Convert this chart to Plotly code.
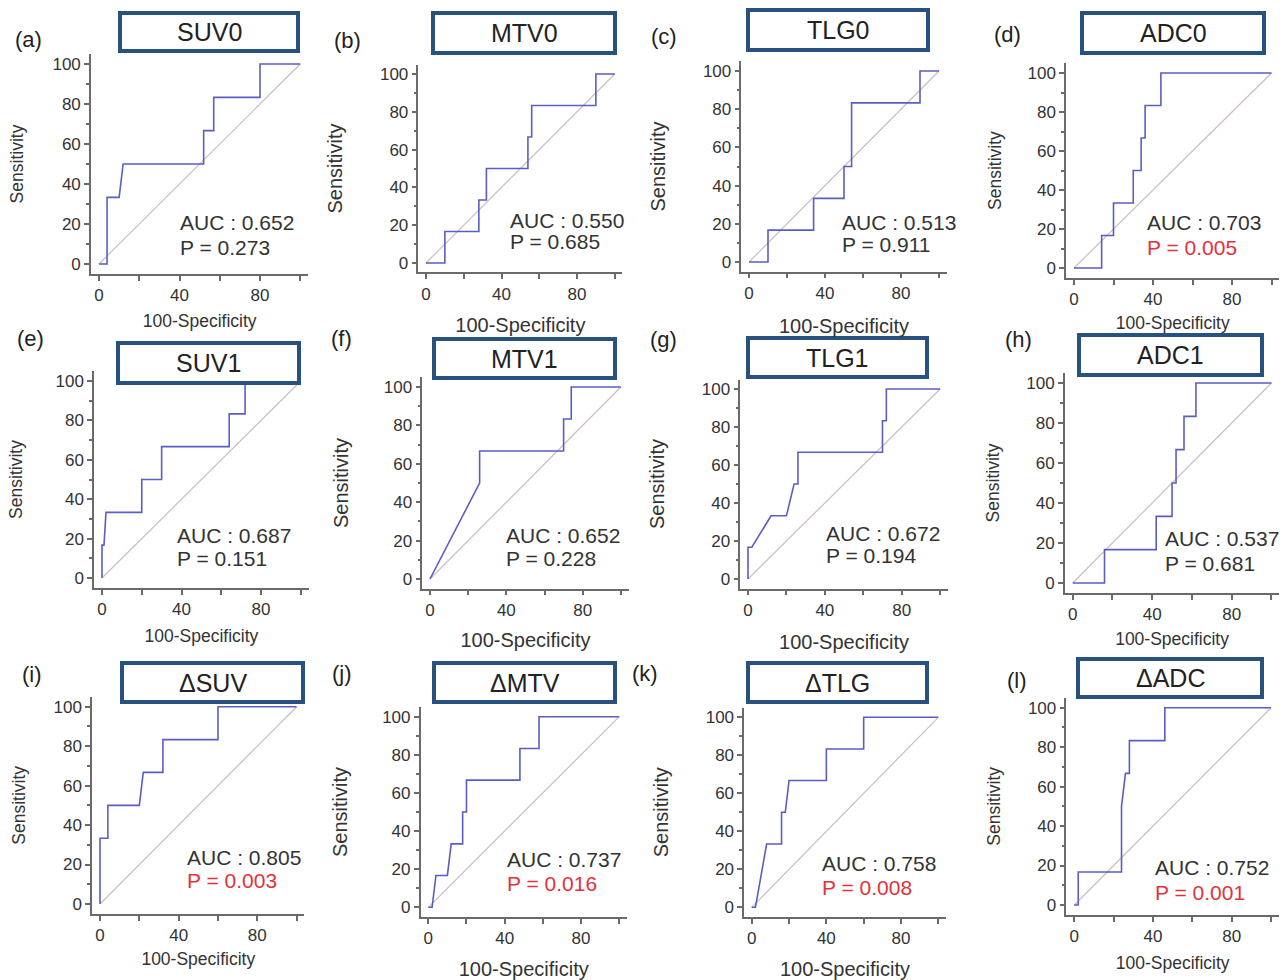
import plotly.graph_objects as go

W, H = 1287, 980

# ---------------- data ----------------
panel_letters = ["(a)", "(b)", "(c)", "(d)", "(e)", "(f)", "(g)", "(h)", "(i)", "(j)", "(k)", "(l)"]
parameters = ["SUV0", "MTV0", "TLG0", "ADC0", "SUV1", "MTV1", "TLG1", "ADC1", "ΔSUV", "ΔMTV", "ΔTLG", "ΔADC"]
auc_values = ["0.652", "0.550", "0.513", "0.703", "0.687", "0.652", "0.672", "0.537", "0.805", "0.737", "0.758", "0.752"]
p_values = ["0.273", "0.685", "0.911", "0.005", "0.151", "0.228", "0.194", "0.681", "0.003", "0.016", "0.008", "0.001"]

# ROC curves: 100-Specificity (x) and Sensitivity (y)
suv0_x = [0, 4, 4, 10, 12, 52, 52, 57, 57, 80, 80, 100]
suv0_y = [0, 0, 33.3, 33.3, 50, 50, 66.7, 66.7, 83.3, 83.3, 100, 100]
mtv0_x = [0, 10, 10, 28, 28, 32, 32, 54, 54, 56, 56, 90, 90, 100]
mtv0_y = [0, 0, 16.7, 16.7, 33.3, 33.3, 50, 50, 66.7, 66.7, 83.3, 83.3, 100, 100]
tlg0_x = [0, 10, 10, 34, 34, 50, 50, 54, 54, 90, 90, 100]
tlg0_y = [0, 0, 16.7, 16.7, 33.3, 33.3, 50, 50, 83.3, 83.3, 100, 100]
adc0_x = [0, 14, 14, 20, 20, 30, 30, 34, 34, 36, 36, 44, 44, 100]
adc0_y = [0, 0, 16.7, 16.7, 33.3, 33.3, 50, 50, 66.7, 66.7, 83.3, 83.3, 100, 100]
suv1_x = [0, 0, 1, 2, 20, 20, 30, 30, 64, 64, 72, 72, 100]
suv1_y = [0, 16.7, 16.7, 33.3, 33.3, 50, 50, 66.7, 66.7, 83.3, 83.3, 100, 100]
mtv1_x = [0, 26, 26, 70, 70, 74, 74, 100]
mtv1_y = [0, 50, 66.7, 66.7, 83.3, 83.3, 100, 100]
tlg1_x = [0, 0, 2, 12, 20, 24, 26, 26, 70, 70, 72, 72, 100]
tlg1_y = [0, 16.7, 16.7, 33.3, 33.3, 50, 50, 66.7, 66.7, 83.3, 83.3, 100, 100]
adc1_x = [0, 16, 16, 42, 42, 50, 50, 52, 52, 56, 56, 62, 62, 100]
adc1_y = [0, 0, 16.7, 16.7, 33.3, 33.3, 50, 50, 66.7, 66.7, 83.3, 83.3, 100, 100]
dsuv_x = [0, 0, 4, 4, 20, 22, 32, 32, 60, 60, 100]
dsuv_y = [0, 33.3, 33.3, 50, 50, 66.7, 66.7, 83.3, 83.3, 100, 100]
dmtv_x = [0, 2, 4, 10, 12, 18, 18, 20, 20, 48, 48, 58, 58, 100]
dmtv_y = [0, 0, 16.7, 16.7, 33.3, 33.3, 50, 50, 66.7, 66.7, 83.3, 83.3, 100, 100]
dtlg_x = [0, 2, 8, 16, 16, 18, 20, 40, 40, 60, 60, 100]
dtlg_y = [0, 0, 33.3, 33.3, 50, 50, 66.7, 66.7, 83.3, 83.3, 100, 100]
dadc_x = [0, 2, 2, 24, 24, 26, 28, 28, 46, 46, 100]
dadc_y = [0, 0, 16.7, 16.7, 50, 66.7, 66.7, 83.3, 83.3, 100, 100]

curves_x = [suv0_x, mtv0_x, tlg0_x, adc0_x, suv1_x, mtv1_x, tlg1_x, adc1_x, dsuv_x, dmtv_x, dtlg_x, dadc_x]
curves_y = [suv0_y, mtv0_y, tlg0_y, adc0_y, suv1_y, mtv1_y, tlg1_y, adc1_y, dsuv_y, dmtv_y, dtlg_y, dadc_y]

ref_x = [0, 100]
ref_y = [0, 100]
x_tickvals = [0, 20, 40, 60, 80, 100]
x_ticktext = ["0", "", "40", "", "80", ""]
y_tickvals = [0, 20, 40, 60, 80, 100]
y_minor = [10, 30, 50, 70, 90]

# ---------------- layout geometry (pixels) ----------------
# pixel position of x=0, x=80, y=0, y=100 in each panel
axes_px = [
    (99, 260, 264, 64), (426, 577, 263, 74), (749, 901, 262, 71), (1074, 1232, 268, 73),
    (102, 261, 578, 381), (430, 582.7, 579, 387), (748, 901.7, 579, 389), (1072.7, 1231.7, 583, 383),
    (100, 257.3, 904, 706.7), (428.3, 581, 907.3, 716.7), (751.7, 901, 907.3, 717.3), (1074.3, 1231.7, 905, 707.7),
]
box_px = [
    (120, 298, 13, 51), (433, 615, 13, 53), (748, 928, 10, 50), (1082, 1264, 13, 53),
    (118, 299, 343, 383), (434, 615, 339, 378), (748, 927, 338, 377), (1079, 1262, 335, 375),
    (122, 303, 663, 702), (434, 615, 663, 702), (748, 927, 663, 702), (1078, 1262, 659, 697),
]
letter_px = [
    (28, 39), (347, 41), (664, 36), (1007, 35),
    (30, 338), (341, 338), (663, 339), (1018, 340),
    (32, 674), (342, 673), (645, 673), (1017, 680),
]
auc_px = [
    (178, 222, 247), (508, 220, 242), (840, 222, 244), (1145, 222, 247),
    (175, 535, 558), (504, 535, 558), (824, 533, 555), (1163, 538, 563),
    (185, 857, 880), (505, 859, 883), (820, 863, 887), (1153, 867, 892),
]
title_size = [17.5, 20, 20, 17.5, 17.5, 20, 20, 17.5, 17.5, 20, 20, 17.5]
y_standoff = [24, 31.5, 31.5, 21, 28, 29.5, 31.5, 22, 23, 29.5, 31.5, 23]
x_standoff = [10.75, 15.5, 17.5, 8.75, 11.75, 14.5, 16.5, 9.75, 8.75, 18.5, 18.5, 11.75]

XMIN, XMAX = -4, 104
YMIN, YMAX = -5, 105

FONT = "Liberation Sans, Arial, sans-serif"
CURVE = "#5a5ec4"
DIAG = "#cbbcc6"
AXIS = "#6a6a6a"
TXT = "#333333"
RED = "#e2323c"
BOX = "#27527f"

fig = go.Figure()
annotations = []
shapes = []

def px_x(p):
    return p / W

def px_y(p):
    return 1 - p / H

for i in range(12):
    n = "" if i == 0 else str(i + 1)
    x0, x80, y0, y100 = axes_px[i]
    sx = (x80 - x0) / 80.0
    sy = (y0 - y100) / 100.0
    dx = [px_x(x0 + XMIN * sx), px_x(x0 + XMAX * sx)]
    dy = [px_y(y0 - YMIN * sy), px_y(y0 - YMAX * sy)]

    fig.add_trace(go.Scatter(x=ref_x, y=ref_y, mode="lines", line=dict(color=DIAG, width=1.2),
                             xaxis="x" + n, yaxis="y" + n, showlegend=False, hoverinfo="skip"))
    fig.add_trace(go.Scatter(x=curves_x[i], y=curves_y[i], mode="lines", line=dict(color=CURVE, width=1.6),
                             xaxis="x" + n, yaxis="y" + n, showlegend=False, name=parameters[i]))

    fig.layout["xaxis" + n] = dict(
        domain=dx, range=[XMIN, XMAX], anchor="y" + n, showgrid=False, zeroline=False,
        showline=True, linecolor=AXIS, linewidth=1.5, tickmode="array", tickvals=x_tickvals,
        ticktext=x_ticktext, ticks="outside", ticklen=5, tickcolor=AXIS, tickwidth=1.5,
        tickfont=dict(family=FONT, size=17, color=TXT),
        title=dict(text="100-Specificity", font=dict(family=FONT, size=title_size[i], color=TXT),
                   standoff=x_standoff[i]),
        automargin=False, fixedrange=True,
    )
    fig.layout["yaxis" + n] = dict(
        domain=dy, range=[YMIN, YMAX], anchor="x" + n, showgrid=False, zeroline=False,
        showline=True, linecolor=AXIS, linewidth=1.5, tickmode="array", tickvals=y_tickvals,
        ticks="outside", ticklen=5, tickcolor=AXIS, tickwidth=1.5,
        minor=dict(tickmode="array", tickvals=y_minor, ticks="outside", ticklen=3, tickcolor=AXIS),
        tickfont=dict(family=FONT, size=17, color=TXT),
        title=dict(text="Sensitivity", font=dict(family=FONT, size=title_size[i], color=TXT),
                   standoff=y_standoff[i]),
        automargin=False, fixedrange=True,
    )

    bx0, bx1, by0, by1 = box_px[i]
    shapes.append(dict(type="rect", xref="paper", yref="paper", x0=px_x(bx0), x1=px_x(bx1),
                       y0=px_y(by1), y1=px_y(by0), line=dict(color=BOX, width=4),
                       fillcolor="white", layer="above"))
    annotations.append(dict(text=parameters[i], xref="paper", yref="paper",
                            x=px_x((bx0 + bx1) / 2), y=px_y((by0 + by1) / 2),
                            xanchor="center", yanchor="middle", showarrow=False,
                            font=dict(family=FONT, size=25, color="#222222")))
    lx, ly = letter_px[i]
    annotations.append(dict(text=panel_letters[i], xref="paper", yref="paper", x=px_x(lx), y=px_y(ly),
                            xanchor="center", yanchor="middle", showarrow=False,
                            font=dict(family=FONT, size=22, color="#222222")))
    ax_, ay1, ay2 = auc_px[i]
    annotations.append(dict(text="AUC : " + auc_values[i], xref="paper", yref="paper",
                            x=px_x(ax_), y=px_y(ay1), xanchor="left", yanchor="middle",
                            showarrow=False, font=dict(family=FONT, size=21, color=TXT)))
    pcol = RED if float(p_values[i]) < 0.05 else TXT
    annotations.append(dict(text="P = " + p_values[i], xref="paper", yref="paper",
                            x=px_x(ax_), y=px_y(ay2), xanchor="left", yanchor="middle",
                            showarrow=False, font=dict(family=FONT, size=21, color=pcol)))

fig.update_layout(
    width=W, height=H, margin=dict(l=0, r=0, t=0, b=0),
    paper_bgcolor="white", plot_bgcolor="white",
    shapes=shapes, annotations=annotations, showlegend=False,
)

fig.write_html("out.html", config={"displayModeBar": False},
               post_script="document.body.style.margin='0px';document.body.style.overflow='hidden';")
